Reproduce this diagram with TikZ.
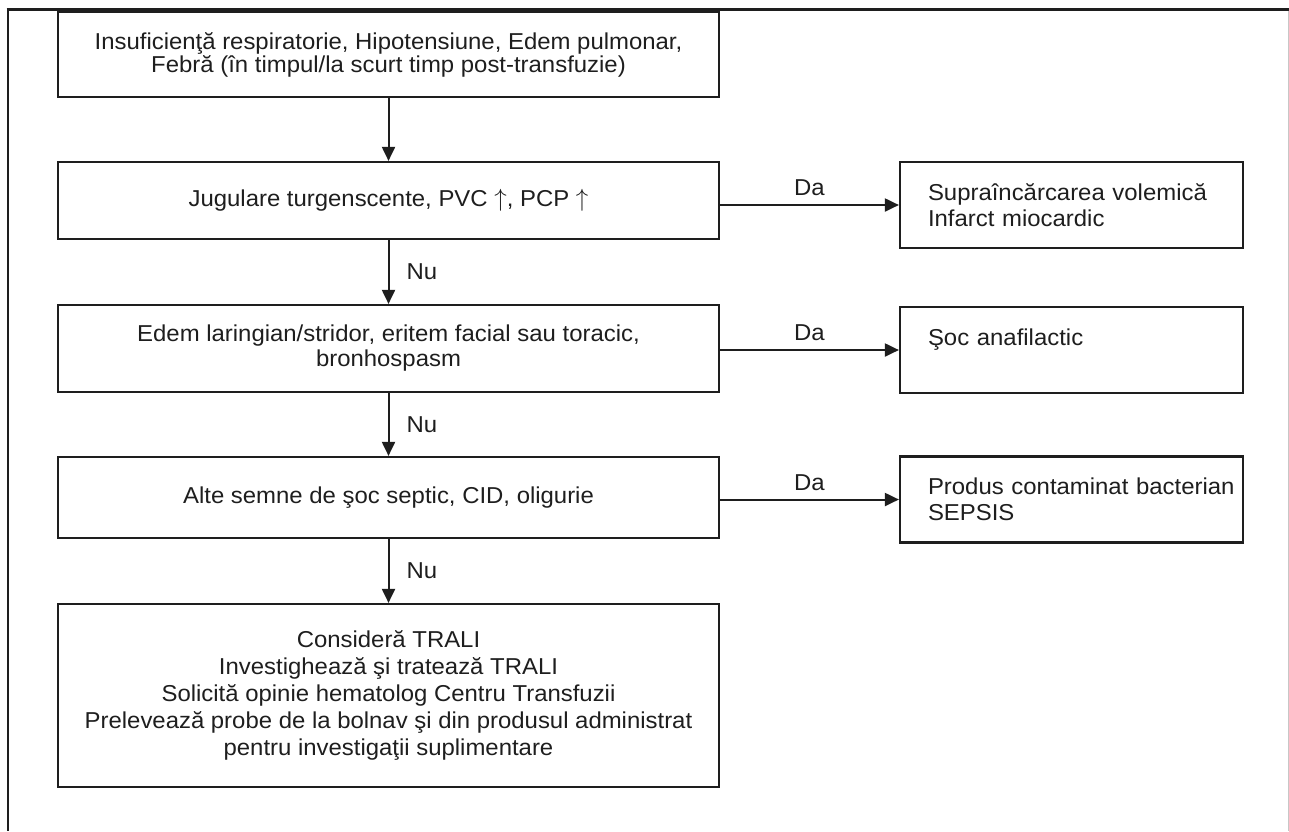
\documentclass[tikz,border=0pt]{standalone}
\usepackage{fontspec}
\setmainfont{Liberation Sans}[FakeStretch=1.04]
\usetikzlibrary{arrows.meta}
\definecolor{ink}{HTML}{1E1E1E}
\begin{document}
\begin{tikzpicture}[x=1pt,y=-1pt,
  lbox/.style={draw=ink, line width=2.2pt, minimum width=661pt, inner sep=0pt,
    align=center, text=ink, font=\fontsize{23}{25}\selectfont},
  rbox/.style={draw=ink, line width=2.2pt, minimum height=86pt, inner xsep=28pt,
    inner ysep=0pt, text width=287pt, align=left, text=ink,
    font=\fontsize{23}{25.5}\selectfont},
  conn/.style={draw=ink, line width=2pt, -{Triangle[length=14pt,width=13pt]}},
  lab/.style={text=ink, inner sep=0pt, font=\fontsize{23}{25}\selectfont}]
\useasboundingbox (0,0) rectangle (1289,831);
% frame
\draw[ink, line width=2.5pt] (6.7,9.5) -- (1289,9.5);
\draw[ink, line width=2pt] (7.7,8.5) -- (7.7,831);
\draw[black!22, line width=1pt] (1288,10.5) -- (1288,831);
% left column
\node[lbox, minimum height=85pt, font=\fontsize{23}{23}\selectfont] (b1) at (388.5,54.5)
  {Insuficienţă respiratorie, Hipotensiune, Edem pulmonar,\\Febră (în timpul/la scurt timp post-transfuzie)};
\node[lbox, minimum height=77pt] (b2) at (388.5,200.5)
  {Jugulare turgenscente, PVC \raisebox{-0.5pt}{$\uparrow$}, PCP \raisebox{-0.5pt}{$\uparrow$}};
\node[lbox, minimum height=87pt] (b3) at (388.5,348.5)
  {Edem laringian/stridor, eritem facial sau toracic,\\bronhospasm};
\node[lbox, minimum height=81pt] (b4) at (388.5,497.5)
  {Alte semne de şoc septic, CID, oligurie};
\node[lbox, minimum height=183pt, font=\fontsize{23}{27}\selectfont] (b5) at (388.5,695.5)
  {Consideră TRALI\\Investighează şi tratează TRALI\\Solicită opinie hematolog Centru Transfuzii\\Prelevează probe de la bolnav şi din produsul administrat\\pentru investigaţii suplimentare};
% right column
\node[rbox] (r1) at (1071.5,205) {\mbox{Supraîncărcarea volemică}\\\mbox{Infarct miocardic}};
\node[rbox] (r2) at (1071.5,350) {\mbox{Şoc anafilactic}\\\phantom{X}};
\node[rbox] (r3) at (1071.5,499.5) {\mbox{Produs contaminat bacterian}\\\mbox{SEPSIS}};
% vertical connectors
\draw[conn] (b1) -- (b2);
\draw[conn] (b2) -- node[lab, right=17pt] {Nu} (b3);
\draw[conn] (b3) -- node[lab, right=17pt] {Nu} (b4);
\draw[conn] (b4) -- node[lab, right=17pt] {Nu} (b5);
% horizontal connectors
\draw[conn] (b2.east |- r1) -- node[lab, above=8pt] {Da} (r1.west);
\draw[conn] (b3.east |- r2) -- node[lab, above=8pt] {Da} (r2.west);
\draw[conn] (b4.east |- r3) -- node[lab, above=8pt] {Da} (r3.west);
\end{tikzpicture}
\end{document}
